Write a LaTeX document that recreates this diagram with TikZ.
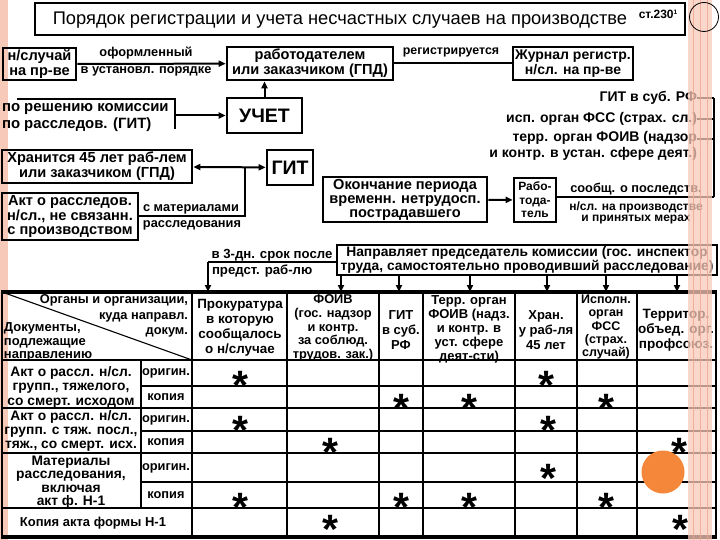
\documentclass[tikz,border=0pt]{standalone}
\usepackage{fontspec}
\setmainfont{Liberation Sans}
\usetikzlibrary{arrows.meta}
\definecolor{stripe}{HTML}{F7C9B8}
\definecolor{stripedark}{HTML}{EFA58C}
\definecolor{dotorange}{HTML}{F5873A}
\newcommand\myfs[2]{\fontsize{#1}{#2}\selectfont\bfseries}
\newcommand\myfr[2]{\fontsize{#1}{#2}\selectfont}
\newcommand\bigstar{\raisebox{-0.4em}[0.32em][0pt]{*}}
\begin{document}
\begin{tikzpicture}[x=1pt,y=-1pt,
  every node/.style={inner sep=0pt, outer sep=0pt},
  box/.style={draw, line width=2.6pt, outer sep=1.3pt, align=center, font=\myfs{14.6}{15}},
  conn/.style={line width=2pt},
  arr/.style={conn, -{Triangle[length=7pt,width=6pt]}},
  darr/.style={conn, {Triangle[length=7pt,width=6pt]}-{Triangle[length=7pt,width=6pt]}},
  lbl/.style={font=\myfs{12.8}{14}},
  lbl2/.style={font=\myfs{14}{16}},
  tfont/.style={font=\myfs{13}{14}},
  thin/.style={line width=1.1pt},
  thick/.style={line width=3.2pt},
  starmark/.style={font=\myfs{41}{41}}
]
\useasboundingbox (0,0) rectangle (720,540);
% left decorative stripe
\fill[stripe] (0,0) rectangle (8,540);

% ---- title
\node[box, minimum width=650pt, minimum height=32pt] (title) at (360,19) {};
\node[font=\myfr{18.3}{20}] (titletext) at (340,20) {Порядок регистрации и учета несчастных случаев на производстве};
\node[font=\myfs{12}{12}] (page) at (658,14) {ст.230\raisebox{4pt}{\fontsize{6.5}{6.5}\selectfont 1}};

% ---- row 1
\node[box, minimum width=73pt, minimum height=32pt] (nsl) at (39.5,64) {н/случай\\на пр-ве};
\node[box, minimum width=166pt, minimum height=33pt] (rab) at (310,63.5) {работодателем\\или заказчиком (ГПД)};
\node[box, minimum width=120pt, minimum height=33pt, font=\myfs{14}{15}] (jour) at (573,63.5) {Журнал регистр.\\н/сл. на пр-ве};
\draw[arr] (nsl) -- (rab);
\node[lbl] (oform) at (146,53) {оформленный};
\node[lbl] (vust) at (146,71) {в установл. порядке};
\draw[conn] (rab) -- (jour);
\node[lbl, font=\myfs{12.4}{14}] (reg) at (451,52) {регистрируется};

% ---- row 2
\node[font=\myfs{14.9}{17}, align=left, anchor=west] (resh) at (2,118) {по решению комиссии\\по расследов. (ГИТ)};
\node[box, minimum width=75pt, minimum height=35pt, font=\myfs{19.5}{20}] (uchet) at (264.5,115.5) {УЧЕТ};
\coordinate (br1) at (17,99);
\coordinate (br2) at (175,99);
\coordinate (br3) at (175,129);
\coordinate (br4) at (175,115.5);
\draw[conn] (br1) -- (br2) -- (br3);
\draw[arr] (br4) -- (uchet);
\draw[arr] (uchet.north) -- (uchet.north |- rab.south);

% ---- right list
\node[lbl2, anchor=east] (gitrf) at (697,98) {ГИТ в суб. РФ};
\node[lbl2, anchor=east] (fss) at (697,119) {исп. орган ФСС (страх. сл.)};
\node[lbl2, anchor=north east, align=right] (foiv) at (697,131) {терр. орган ФОИВ (надзор\\и контр. в устан. сфере деят.)};
\coordinate (v1) at (714,98);
\coordinate (v2) at (714,119);
\coordinate (v3) at (714,139);
\coordinate (v3a) at (697,139);
\coordinate (v4) at (714,197);
\draw[conn] (gitrf.east) -- (v1);
\draw[conn] (fss.east) -- (v2);
\draw[conn] (v3a) -- (v3);
\draw[conn] (v1) -- (v4);

% ---- middle
\node[box, minimum width=190pt, minimum height=33pt] (hran) at (97,166.5) {Хранится 45 лет раб-лем\\или заказчиком (ГПД)};
\node[box, minimum width=46pt, minimum height=35pt, font=\myfs{19.5}{20}] (git) at (290,167.5) {ГИТ};
\node[box, minimum width=136pt, minimum height=47pt, font=\myfs{14.6}{14.5}] (akt) at (70,216.5) {Акт о расследов.\\н/сл., не связанн.\\с производством};
\coordinate (m1) at (245,167.5);
\coordinate (m2) at (245,216.5);
\draw[darr] (hran) -- (git);
\draw[conn] (akt) -- (m2) -- (m1);
\node[lbl] (smat) at (191,209) {с материалами};
\node[lbl] (rassl) at (192,225) {расследования};

\node[box, minimum width=164pt, minimum height=45pt, font=\myfs{14.6}{14}] (okon) at (405,199.5) {Окончание периода\\временн. нетрудосп.\\пострадавшего};
\node[box, minimum width=42pt, minimum height=44pt, font=\myfs{12}{13.5}] (rabot) at (535,200) {Рабо-\\тода-\\тель};
\draw[arr] (okon) -- (rabot);
\draw[conn] (v4) -- (rabot.east |- v4);
\node[lbl] (soob) at (636,189) {сообщ. о последств.};
\node[align=center, font=\myfs{12}{11.5}] (nslpr) at (636,213) {н/сл. на производстве\\и принятых мерах};

% ---- direction box
\node[box, minimum width=380pt, minimum height=30pt, font=\myfs{13.8}{14.5}] (napr) at (527,260) {Направляет председатель комиссии (гос. инспектор\\труда, самостоятельно проводивший расследование)};
\coordinate (d1) at (208,262);
\coordinate (d2) at (208,292);
\draw[conn] (napr.west |- d1) -- (d1);
\draw[arr] (d1) -- (d2);
\node[lbl, font=\myfs{13.2}{14}] (tri) at (272,255) {в 3-дн. срок после};
\node[lbl, font=\myfs{13.2}{14}, anchor=west] (pred) at (212,271) {предст. раб-лю};
\foreach \xx/\nm in {341/a1,399/a2,470/a3,547/a4,606/a5,677/a6}{
  \coordinate (\nm) at (\xx,292);
  \draw[arr] (napr.south -| \nm) -- (\nm);
}

% ---- table
\draw[thin] (2,292) -- (192,360);
\foreach \xx in {192,287,379,423,515,577,637}{ \draw[thin] (\xx,292) -- (\xx,537); }
\draw[thin] (141,360) -- (141,508);
\foreach \yy in {360,408,453,508}{ \draw[thin] (2,\yy) -- (716,\yy); }
\foreach \yy in {386,431,482}{ \draw[thin] (141,\yy) -- (716,\yy); }
\draw[line width=2.4pt] (2,292) -- (2,537);
\draw[line width=2pt] (716,292) -- (716,537);
\draw[thick] (1,292) -- (717,292);
\draw[thick] (1,537) -- (717,537);

\node[tfont, align=right, anchor=north east, font=\myfs{12.8}{15.5}] (h1) at (188,295) {Органы и организации,\\куда направл.\\докум.};
\node[tfont, align=left, anchor=north west, font=\myfs{13}{13.5}] (h2) at (4,323) {Документы,\\подлежащие\\направлению};
\node[tfont, align=center, font=\myfs{13.4}{15}] (c1) at (240,328) {Прокуратура\\в которую\\сообщалось\\о н/случае};
\node[tfont, align=center, font=\myfs{12.8}{13.8}] (c2) at (333,328) {ФОИВ\\(гос. надзор\\и контр.\\за соблюд.\\трудов. зак.)};
\node[tfont, align=center, font=\myfs{13}{15}] (c3) at (401,330) {ГИТ\\в суб.\\РФ};
\node[tfont, align=center, font=\myfs{13}{14}] (c4) at (469,329) {Терр. орган\\ФОИВ (надз.\\и контр. в\\уст. сфере\\деят-сти)};
\node[tfont, align=center, font=\myfs{13}{15}] (c5) at (546,330) {Хран.\\у раб-ля\\45 лет};
\node[tfont, align=center, font=\myfs{12.5}{13.2}] (c6) at (606,327) {Исполн.\\орган\\ФСС\\(страх.\\случай)};
\node[tfont, align=center, font=\myfs{13.5}{15}] (c7) at (676,330) {Территор.\\объед. орг.\\профсоюз.};

\node[tfont, align=center, font=\myfs{13.8}{14.5}] (r1) at (71,387) {Акт о рассл. н/сл.\\групп., тяжелого,\\со смерт. исходом};
\node[tfont, align=center, font=\myfs{13.8}{14}] (r2) at (71,431) {Акт о рассл. н/сл.\\групп. с тяж. посл.,\\тяж., со смерт. исх.};
\node[tfont, align=center, font=\myfs{13.8}{13.5}] (r3) at (71,482) {Материалы\\расследования,\\включая\\акт ф. Н-1};
\node[tfont] (r4) at (93,523) {Копия акта формы Н-1};
\node[tfont, font=\myfs{12.8}{13}] (o1) at (166,373) {оригин.};
\node[tfont, font=\myfs{12.8}{13}] (k1) at (166,397) {копия};
\node[tfont, font=\myfs{12.8}{13}] (o2) at (166,420) {оригин.};
\node[tfont, font=\myfs{12.8}{13}] (k2) at (166,442) {копия};
\node[tfont, font=\myfs{12.8}{13}] (o3) at (166,468) {оригин.};
\node[tfont, font=\myfs{12.8}{13}] (k3) at (166,495) {копия};

% stars
\foreach \xx/\yy in {240/377,546/377,401/400,469/400,606/400,240/422,548/422,330/444,679/444,548/470,240/499,401/499,469/499,606/499,330/521,680/521}{
  \node[starmark] at (\xx,\yy) {\bigstar};
}

% ---- right decorations
\fill[stripe, opacity=0.75] (688,0) rectangle (712,540);
\foreach \xx in {693,700,707}{ \draw[stripedark, line width=1pt, opacity=0.8] (\xx,0) -- (\xx,540); }
\draw[line width=0.8pt] (704,17) circle (14.5);
\fill[dotorange] (663,472) circle (21.5);
\end{tikzpicture}
\end{document}
